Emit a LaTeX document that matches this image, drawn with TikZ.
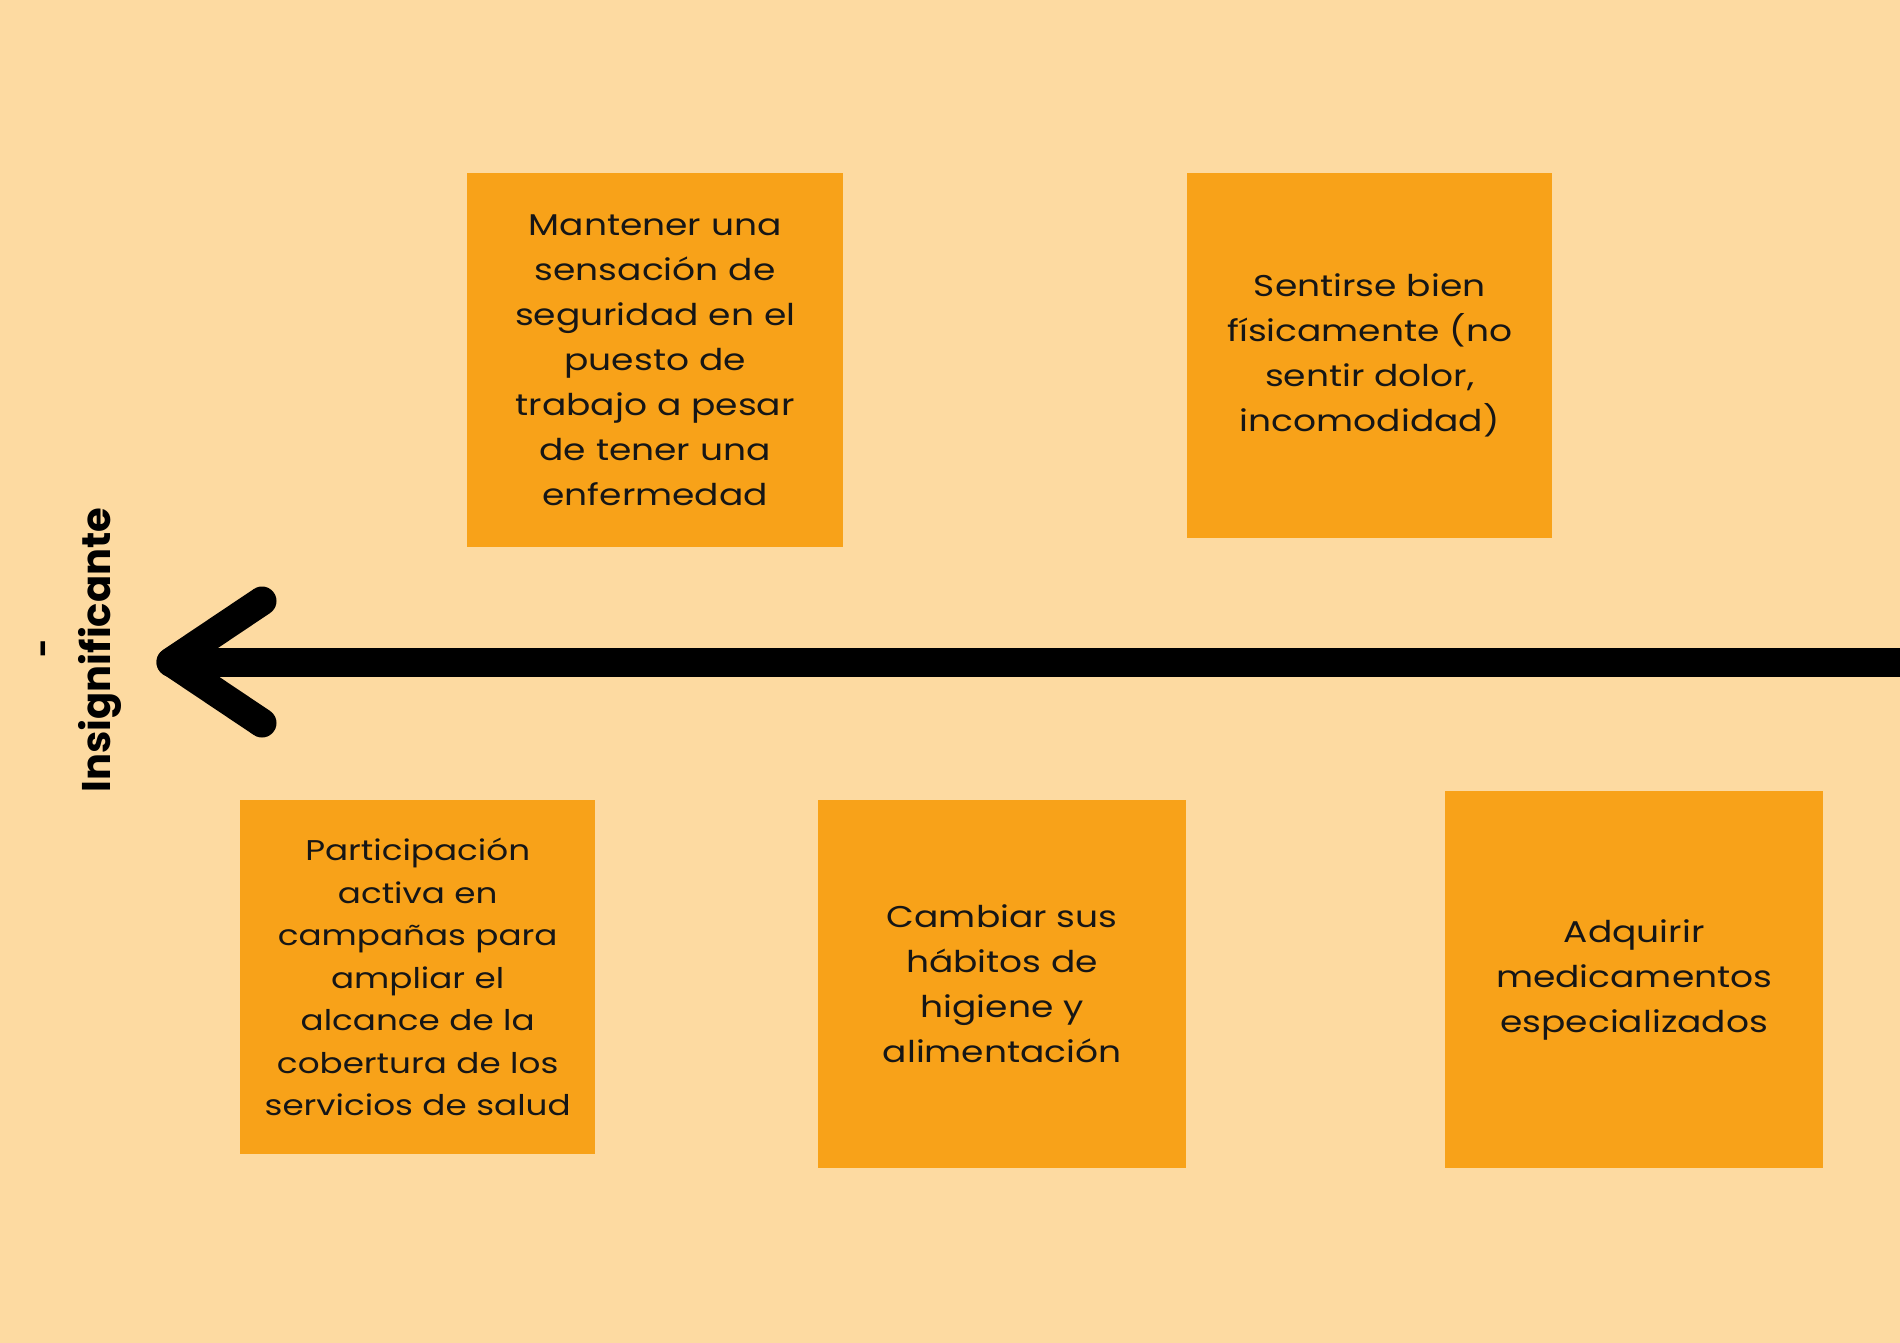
\documentclass[tikz,border=0pt]{standalone}
\usepackage{fontspec}
\setmainfont{Poppins}
\newfontfamily\cardfont[FakeStretch=1.2]{Poppins}
\definecolor{bgpeach}{HTML}{FDDAA1}
\definecolor{boxorange}{HTML}{F8A219}
\definecolor{ink}{HTML}{161616}

\begin{document}
\begin{tikzpicture}[x=1pt,y=-1pt,
  card/.style={fill=boxorange, draw=none, inner sep=0pt, align=center,
    text=ink, anchor=north west,
    font=\cardfont\fontsize{30}{45}\selectfont},
  axisline/.style={draw=black, line width=29pt, line cap=round, line join=round},
  axislabel/.style={rotate=90, anchor=base, text=black,
    font=\bfseries\fontsize{40}{40}\selectfont},
]
% page background
\fill[bgpeach] (0,0) rectangle (1900,1343);
\useasboundingbox (0,0) rectangle (1900,1343);
\clip (0,0) rectangle (1900,1343);

% cards above the axis
\node[card, minimum width=376pt, minimum height=374pt, text width=366pt] (seguridad) at (467,173)
  {Mantener una\\sensación de\\seguridad en el\\puesto de\\trabajo a pesar\\de tener una\\enfermedad};
\node[card, minimum width=365pt, minimum height=365pt, text width=355pt] (fisico) at (1187,173)
  {Sentirse bien\\físicamente (no\\sentir dolor,\\incomodidad)\\[8pt]};

% cards below the axis
\node[card, minimum width=355pt, minimum height=354pt, text width=350pt,
      font=\cardfont\fontsize{28.5}{42.5}\selectfont] (campanas) at (240,800)
  {Participación\\activa en\\campañas para\\ampliar el\\alcance de la\\cobertura de los\\servicios de salud};
\node[card, minimum width=368pt, minimum height=368pt, text width=358pt] (habitos) at (818,800)
  {Cambiar sus\\hábitos de\\higiene y\\alimentación\\[8pt]};
\node[card, minimum width=378pt, minimum height=377pt, text width=368pt] (medicamentos) at (1445,791)
  {Adquirir\\medicamentos\\especializados};

% horizontal axis pointing left
\coordinate (shaft) at (1915,662);
\coordinate (tip) at (171,662);
\coordinate (barbup) at (262,601);
\coordinate (barbdown) at (262,723);
\draw[axisline] (shaft) -- (tip);
\draw[axisline] (barbup) -- (tip) -- (barbdown);

% axis end label
\node[axislabel] (insig) at (110,650) {Insignificante};
\node[rotate=90, text=black, font=\bfseries\fontsize{32}{32}\selectfont] (minus) at (48,648) {-};
\end{tikzpicture}
\end{document}
